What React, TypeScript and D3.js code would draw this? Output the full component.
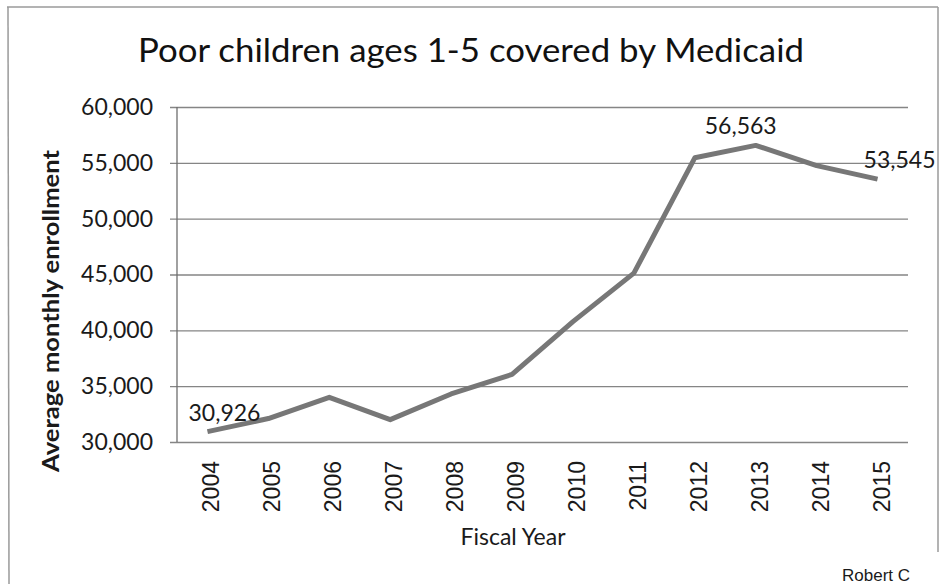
import { useEffect, useRef } from 'react';
import * as d3 from 'd3';

const years = ['2004', '2005', '2006', '2007', '2008', '2009', '2010', '2011', '2012', '2013', '2014', '2015'];
const enrollment = [30926, 32100, 34000, 32000, 34300, 36050, 40780, 45120, 55450, 56563, 54750, 53545];
const yTicks = [30000, 35000, 40000, 45000, 50000, 55000, 60000];
const labelledYears = ['2004', '2013', '2015'];

function App() {
  const svgRef = useRef<SVGSVGElement | null>(null);
  const width = 941;
  const height = 584;
  const margin = { top: 107, right: 33, bottom: 142, left: 177 };

  useEffect(() => {
    const svg = d3.select(svgRef.current);
    svg.selectAll('*').remove();

    const xScale = d3
      .scaleBand()
      .domain(years)
      .range([margin.left, width - margin.right]);

    const yScale = d3
      .scaleLinear()
      .domain([30000, 60000])
      .range([height - margin.bottom, margin.top]);

    const cx = (year: string) => (xScale(year) as number) + xScale.bandwidth() / 2;
    const fmt = d3.format(',');

    // chart frame
    const frame = svg.append('g').attr('stroke', '#9a9a9a').attr('stroke-width', 1.5);
    frame.append('line').attr('x1', 7).attr('x2', 938).attr('y1', 7).attr('y2', 7);
    frame.append('line').attr('x1', 8).attr('x2', 9).attr('y1', 7).attr('y2', 584);
    frame.append('line').attr('x1', 938).attr('x2', 938).attr('y1', 7).attr('y2', 552);

    // title
    svg
      .append('text')
      .attr('x', 471)
      .attr('y', 62)
      .attr('text-anchor', 'middle')
      .attr('font-family', 'Lato, sans-serif')
      .attr('font-size', 32)
      .attr('textLength', 666)
      .attr('lengthAdjust', 'spacingAndGlyphs')
      .attr('fill', '#111')
      .text('Poor children ages 1-5 covered by Medicaid');

    // gridlines + y axis
    const yAxis = (g: d3.Selection<SVGGElement, unknown, null, undefined>) =>
      g
        .attr('transform', `translate(${margin.left},0)`)
        .call(
          d3
            .axisLeft(yScale)
            .tickValues(yTicks)
            .tickSize(-(width - margin.left - margin.right))
            .tickSizeOuter(0)
            .tickPadding(24)
            .tickFormat((d) => fmt(d as number))
        )
        .call((g) => g.select('.domain').remove())
        .call((g) =>
          g
            .selectAll('.tick line')
            .attr('x1', -7)
            .attr('stroke', '#858585')
            .attr('stroke-width', 1.3)
        )
        .call((g) =>
          g
            .selectAll('.tick text')
            .attr('font-family', 'Lato, sans-serif')
            .attr('font-size', 23)
            .attr('fill', '#1a1a1a')
        );

    svg.append<SVGGElement>('g').call(yAxis);

    svg
      .append('line')
      .attr('x1', margin.left)
      .attr('x2', margin.left)
      .attr('y1', yScale(60000))
      .attr('y2', yScale(30000))
      .attr('stroke', '#6e6e6e')
      .attr('stroke-width', 1.3);

    // x axis labels (rotated)
    svg
      .append('g')
      .selectAll('text')
      .data(years)
      .enter()
      .append('text')
      .attr('transform', (d) => `translate(${cx(d) + 12},${yScale(30000) + 19}) rotate(-90)`)
      .attr('text-anchor', 'end')
      .attr('font-family', '"Liberation Sans", Arial, sans-serif')
      .attr('font-size', 23)
      .attr('fill', '#1a1a1a')
      .text((d) => d);

    // axis titles
    svg
      .append('text')
      .attr('x', 513)
      .attr('y', 545)
      .attr('text-anchor', 'middle')
      .attr('font-family', 'Lato, sans-serif')
      .attr('font-size', 23)
      .attr('fill', '#1a1a1a')
      .text('Fiscal Year');

    svg
      .append('text')
      .attr('transform', `translate(59,311) rotate(-90)`)
      .attr('text-anchor', 'middle')
      .attr('font-family', 'Lato, sans-serif')
      .attr('font-weight', 'bold')
      .attr('font-size', 22)
      .attr('textLength', 322)
      .attr('lengthAdjust', 'spacingAndGlyphs')
      .attr('fill', '#1a1a1a')
      .text('Average monthly enrollment');

    // line
    const line = d3
      .line<number>()
      .x((_, i) => cx(years[i]))
      .y((d) => yScale(d));

    svg
      .append('path')
      .datum(enrollment)
      .attr('d', line)
      .attr('fill', 'none')
      .attr('stroke', '#777777')
      .attr('stroke-width', 5)
      .attr('stroke-linejoin', 'round');

    // data labels
    const dx: Record<string, number> = { '2004': 17, '2013': -15, '2015': 22 };
    svg
      .append('g')
      .selectAll('text')
      .data(labelledYears)
      .enter()
      .append('text')
      .attr('x', (d) => cx(d) + dx[d])
      .attr('y', (d) => yScale(enrollment[years.indexOf(d)]) - 11)
      .attr('text-anchor', 'middle')
      .attr('font-family', 'Lato, sans-serif')
      .attr('font-size', 23)
      .attr('fill', '#1a1a1a')
      .text((d) => fmt(enrollment[years.indexOf(d)]));

    // credit at the bottom edge
    svg
      .append('text')
      .attr('x', 842)
      .attr('y', 581)
      .attr('font-family', '"Liberation Sans", Arial, sans-serif')
      .attr('font-size', 17)
      .attr('fill', '#1a1a1a')
      .text('Robert C');
  }, []);

  return (
    <svg
      ref={svgRef}
      width={width}
      height={height}
      style={{ position: 'absolute', left: 0, top: 0, background: '#fff' }}
    />
  );
}

export default App;
